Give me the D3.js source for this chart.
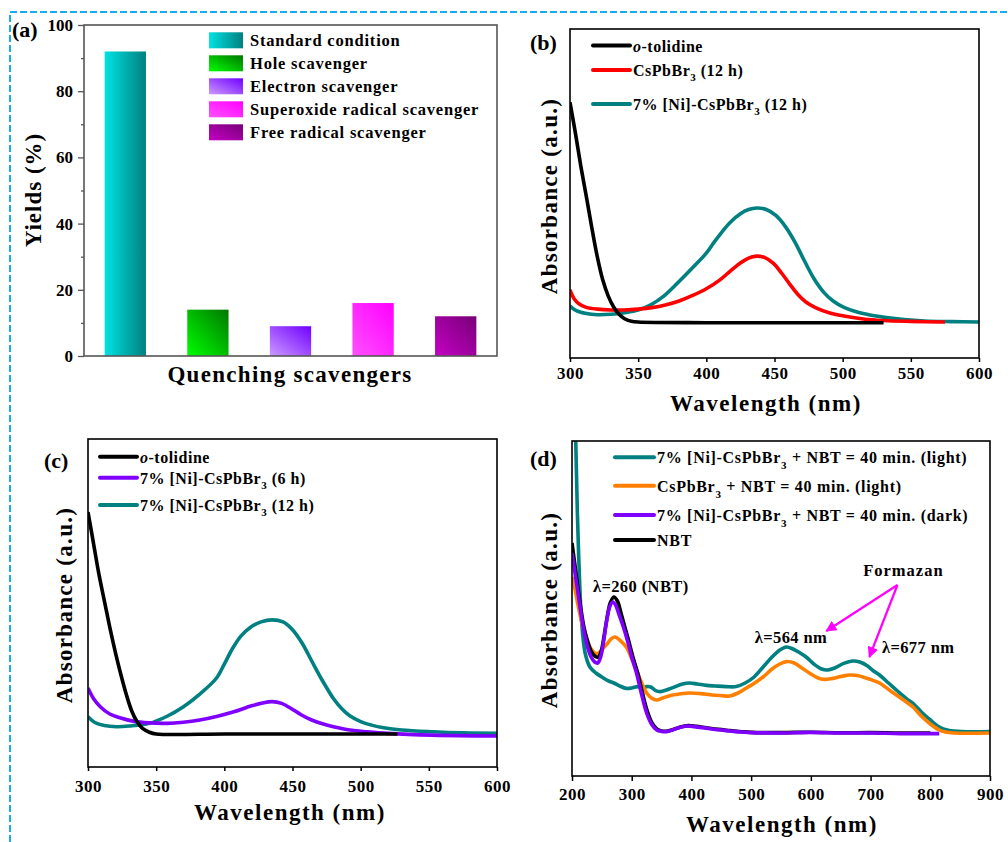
<!DOCTYPE html>
<html><head><meta charset="utf-8">
<script src="https://cdn.jsdelivr.net/npm/d3@7"></script>
<style>
body{margin:0;background:#fff;}
svg{display:block;font-family:"Liberation Serif","Times New Roman",serif;font-weight:bold;}
</style></head><body>
<svg id="chart" width="1008" height="842"></svg>
<script>
// ---------------- DATA ----------------
// (a) quenching experiment
const scavengerCategories = ["Standard condition","Hole scavenger","Electron scavenger","Superoxide radical scavenger","Free radical scavenger"];
const scavengerYields = [92,14,9,16,12];
const scavengerColors = [["#00e2e2","#008080"],["#00ff00","#007800"],["#cc99ff","#7000ff"],["#ff50ff","#ff00ff"],["#c400c4","#780078"]];
const yieldTicks = [0,20,40,60,80,100];
const yieldMinorTicks = [10,30,50,70,90];

// wavelength ticks
const wavelengthTicksBC = [300,350,400,450,500,550,600];
const wavelengthTicksD = [200,300,400,500,600,700,800,900];

// (b) spectra  [wavelength nm, absorbance a.u.]
const bOtolidine = [[300,0.99],[304,0.85],[308,0.7],[312,0.565],[316,0.425],[320,0.295],[324,0.19],[328,0.118],[332,0.068],[336,0.035],[340,0.015],[345,0.004],[350,0],[400,-0.003],[450,-0.003],[500,-0.003],[530,-0.003]];
const bCsPbBr3 = [[300,0.145],[303,0.105],[307,0.08],[312,0.066],[320,0.058],[330,0.054],[340,0.054],[350,0.058],[360,0.065],[370,0.077],[380,0.095],[390,0.12],[400,0.15],[410,0.19],[418,0.232],[425,0.266],[431,0.288],[437,0.297],[443,0.29],[449,0.265],[455,0.222],[461,0.172],[467,0.125],[473,0.09],[480,0.065],[490,0.042],[500,0.028],[515,0.014],[530,0.007],[550,0.003],[575,0]];
const bNiCsPbBr3 = [[300,0.072],[305,0.05],[312,0.038],[320,0.033],[330,0.035],[340,0.042],[350,0.054],[360,0.08],[368,0.113],[376,0.158],[384,0.207],[392,0.258],[400,0.31],[406,0.362],[412,0.41],[418,0.452],[425,0.488],[431,0.507],[437,0.514],[444,0.507],[451,0.48],[458,0.43],[465,0.36],[472,0.275],[479,0.195],[486,0.135],[493,0.095],[501,0.066],[510,0.046],[520,0.032],[532,0.02],[545,0.011],[560,0.005],[580,0.002],[600,0]];

// (c) spectra
const cOtolidine = [[300,1.0],[304,0.86],[308,0.72],[312,0.6],[316,0.48],[320,0.37],[324,0.27],[328,0.18],[332,0.105],[336,0.055],[340,0.025],[345,0.008],[350,0],[400,0],[450,0],[500,0],[527,0]];
const cNi6h = [[300,0.207],[304,0.16],[309,0.123],[316,0.09],[324,0.072],[333,0.058],[345,0.05],[358,0.048],[370,0.053],[382,0.063],[395,0.08],[407,0.1],[420,0.127],[428,0.14],[435,0.146],[442,0.138],[449,0.115],[456,0.088],[464,0.063],[472,0.046],[480,0.033],[492,0.018],[505,0.01],[520,0.003],[553,-0.005],[600,-0.009]];
const cNi12h = [[300,0.078],[305,0.052],[312,0.038],[321,0.033],[330,0.036],[345,0.048],[358,0.08],[370,0.123],[382,0.18],[394,0.25],[400,0.315],[406,0.385],[412,0.44],[419,0.48],[427,0.505],[435,0.514],[443,0.505],[450,0.47],[457,0.41],[464,0.33],[472,0.24],[480,0.16],[486,0.115],[492,0.082],[500,0.056],[508,0.04],[517,0.028],[530,0.018],[553,0.01],[575,0.005],[600,0.003]];

// (d) NBT spectra
const dNiLight = [[200,2.2],[203,1.9],[206,1.5],[209,1.1],[212,0.82],[216,0.56],[222,0.4],[230,0.33],[240,0.3],[250,0.28],[260,0.262],[270,0.25],[280,0.235],[291,0.223],[300,0.225],[310,0.232],[318,0.225],[325,0.232],[332,0.23],[340,0.212],[348,0.207],[358,0.215],[370,0.228],[385,0.245],[397,0.25],[410,0.245],[425,0.238],[440,0.235],[458,0.232],[475,0.232],[490,0.25],[505,0.28],[520,0.33],[535,0.38],[548,0.415],[559,0.43],[570,0.42],[582,0.4],[592,0.38],[605,0.345],[618,0.32],[628,0.315],[640,0.325],[655,0.348],[670,0.36],[682,0.355],[695,0.335],[705,0.31],[715,0.29],[730,0.25],[745,0.21],[760,0.172],[771,0.148],[785,0.105],[800,0.065],[815,0.03],[830,0.014],[854,0.007],[900,0.007]];
const dCsLight = [[200,0.78],[205,0.72],[210,0.64],[215,0.57],[220,0.515],[226,0.46],[232,0.42],[238,0.4],[243,0.398],[248,0.41],[254,0.43],[260,0.45],[266,0.472],[272,0.48],[278,0.47],[285,0.45],[292,0.425],[300,0.37],[308,0.315],[316,0.255],[325,0.2],[333,0.175],[342,0.165],[352,0.175],[365,0.188],[380,0.195],[397,0.2],[415,0.197],[435,0.19],[450,0.187],[464,0.185],[478,0.2],[492,0.225],[506,0.25],[520,0.28],[535,0.32],[548,0.345],[559,0.357],[572,0.35],[585,0.325],[600,0.295],[612,0.275],[622,0.268],[635,0.272],[650,0.282],[665,0.29],[678,0.288],[692,0.275],[705,0.262],[715,0.25],[730,0.218],[745,0.186],[760,0.155],[771,0.13],[785,0.085],[800,0.045],[815,0.015],[825,0.005],[840,0],[900,0]];
const dNiDark = [[200,0.9],[204,0.82],[208,0.74],[212,0.66],[216,0.58],[220,0.51],[226,0.43],[232,0.38],[238,0.355],[243,0.35],[248,0.38],[253,0.46],[258,0.56],[263,0.63],[268,0.655],[273,0.64],[279,0.59],[286,0.53],[293,0.46],[300,0.38],[308,0.3],[316,0.2],[325,0.1],[333,0.045],[342,0.015],[350,0.008],[358,0.007],[368,0.015],[380,0.028],[392,0.035],[405,0.032],[425,0.024],[445,0.016],[465,0.01],[481,0.005],[500,0.002],[550,0],[600,0.003],[650,0],[700,0],[750,-0.003],[815,-0.003]];
const dNBT = [[200,0.95],[204,0.86],[208,0.77],[212,0.68],[216,0.6],[220,0.53],[226,0.46],[232,0.41],[238,0.385],[244,0.38],[249,0.41],[254,0.49],[259,0.58],[264,0.65],[270,0.68],[276,0.66],[282,0.6],[288,0.535],[295,0.46],[302,0.38],[310,0.3],[318,0.2],[326,0.11],[334,0.05],[342,0.02],[350,0.01],[360,0.01],[372,0.02],[385,0.032],[395,0.037],[408,0.033],[425,0.026],[445,0.018],[465,0.012],[485,0.006],[500,0.003],[550,0.002],[600,0.004],[650,0.001],[700,0.002],[750,0],[800,0]];

// legends
const legendB = ["o-tolidine","CsPbBr3 (12 h)","7% [Ni]-CsPbBr3 (12 h)"];
const legendC = ["o-tolidine","7% [Ni]-CsPbBr3 (6 h)","7% [Ni]-CsPbBr3 (12 h)"];
const legendD = ["7% [Ni]-CsPbBr3 + NBT = 40 min. (light)","CsPbBr3 + NBT = 40 min. (light)","7% [Ni]-CsPbBr3 + NBT = 40 min. (dark)","NBT"];

// (d) annotations [text, wavelength, absorbance]
const annotD = [["λ=260 (NBT)",235,0.707],["λ=564 nm",506,0.45],["λ=677 nm",719,0.4]];
const formazanLabel = ["Formazan",755,0.785];
const formazanArrows = [[[745,0.74],[626,0.51]],[[745,0.74],[698,0.38]]];

// ---------------- DRAW ----------------
const svg = d3.select("#chart");
const defs = svg.append("defs");

// dashed frame
svg.append("path").attr("d","M10,842 V12 H1008").attr("fill","none")
  .attr("stroke","#1aacef").attr("stroke-width",2).attr("stroke-dasharray","7,3");

function richText(sel, s, subSize, subShift){
  if (s.startsWith("o-")) {
    sel.append("tspan").attr("font-style","italic").text("o");
    sel.append("tspan").text(s.slice(1));
    return;
  }
  const i = s.indexOf("Br3");
  if (i < 0) { sel.append("tspan").text(s); return; }
  sel.append("tspan").text(s.slice(0,i+2));
  sel.append("tspan").attr("font-size",subSize).attr("dy",subShift).text("3");
  sel.append("tspan").attr("dy",-subShift).text(s.slice(i+3));
}

// ---- panel (a)
(function(){
  const A = {l:84,t:25,r:497,b:356};
  const x = d3.scaleBand().domain(scavengerCategories).range([A.l,A.r]).paddingInner(0.5).paddingOuter(0.25);
  const y = d3.scaleLinear().domain([0,100]).range([A.b,A.t]);
  scavengerColors.forEach((c,i)=>{
    const g = defs.append("linearGradient").attr("id","ga"+i)
      .attr("x1",0).attr("y1", i===0?0:1).attr("x2",1).attr("y2",0);
    g.append("stop").attr("offset","0%").attr("stop-color",c[0]);
    g.append("stop").attr("offset","100%").attr("stop-color",c[1]);
  });
  const g = svg.append("g");
  g.selectAll("rect.bar").data(scavengerYields).join("rect").attr("class","bar")
    .attr("x",(d,i)=>x(scavengerCategories[i])).attr("width",x.bandwidth())
    .attr("y",d=>y(d)).attr("height",d=>A.b-y(d))
    .attr("fill",(d,i)=>`url(#ga${i})`);
  const ax = g.append("g").attr("transform",`translate(${A.l},0)`)
    .call(d3.axisLeft(y).tickValues(yieldTicks).tickSize(6).tickPadding(5));
  ax.select(".domain").remove();
  ax.attr("font-size",17).attr("font-family",null);
  ax.selectAll("line").attr("stroke","#555").attr("stroke-width",1.3);
  ax.selectAll("text").attr("fill","#000");
  const axm = g.append("g").attr("transform",`translate(${A.l},0)`)
    .call(d3.axisLeft(y).tickValues(yieldMinorTicks).tickSize(3).tickFormat(""));
  axm.select(".domain").remove();
  axm.selectAll("line").attr("stroke","#555").attr("stroke-width",1.3);
  g.append("rect").attr("x",A.l).attr("y",A.t).attr("width",A.r-A.l).attr("height",A.b-A.t)
    .attr("fill","none").attr("stroke","#555").attr("stroke-width",1.6);
  // legend
  const lg = g.append("g");
  scavengerCategories.forEach((c,i)=>{
    const cy = 40.3 + i*23;
    lg.append("rect").attr("x",209).attr("y",cy-8).attr("width",34).attr("height",16).attr("fill",`url(#ga${i})`);
    lg.append("text").attr("x",250).attr("y",cy+5.5).attr("font-size",16.5).attr("letter-spacing",0.8).text(c);
  });
  g.append("text").attr("x",12).attr("y",37).attr("font-size",22).text("(a)");
  g.append("text").attr("x",290).attr("y",382).attr("text-anchor","middle").attr("font-size",23).attr("letter-spacing",1.3).text("Quenching scavengers");
  g.append("text").attr("transform","translate(41,190) rotate(-90)").attr("text-anchor","middle").attr("font-size",23).attr("letter-spacing",1).text("Yields (%)");
})();

// ---- spectra panels
function spectraPanel(cfg){
  const P = cfg.box;
  const x = d3.scaleLinear().domain(cfg.xDomain).range([P.l,P.r]);
  const y = d3.scaleLinear().domain(cfg.yDomain).range([P.b,P.t]);
  const g = svg.append("g");
  const cid = "clip"+cfg.id;
  defs.append("clipPath").attr("id",cid).append("rect")
    .attr("x",P.l).attr("y",P.t).attr("width",P.r-P.l).attr("height",P.b-P.t);
  const line = d3.line().x(d=>x(d[0])).y(d=>y(d[1])).curve(d3.curveCatmullRom.alpha(0.5));
  const cg = g.append("g").attr("clip-path",`url(#${cid})`);
  cfg.drawOrder.forEach(i=>{
    const s = cfg.series[i];
    cg.append("path").datum(s.data).attr("d",line).attr("fill","none")
      .attr("stroke",s.color).attr("stroke-width",3.6).attr("stroke-linejoin","round");
  });
  const ax = g.append("g").attr("transform",`translate(0,${P.b})`)
    .call(d3.axisBottom(x).tickValues(cfg.ticks).tickSize(cfg.tickSize).tickPadding(cfg.tickPad));
  ax.select(".domain").remove();
  ax.attr("font-size",17).attr("font-family",null);
  ax.selectAll("line").attr("stroke","#000").attr("stroke-width",1.5);
  ax.selectAll("text").attr("fill","#000").attr("letter-spacing",0.5);
  g.append("rect").attr("x",P.l).attr("y",P.t).attr("width",P.r-P.l).attr("height",P.b-P.t)
    .attr("fill","none").attr("stroke","#000").attr("stroke-width",1.6);
  // legend
  const L = cfg.legend;
  cfg.series.forEach((s,i)=>{
    const ly = L.ys[i];
    g.append("line").attr("x1",L.x1).attr("x2",L.x2).attr("y1",ly).attr("y2",ly)
      .attr("stroke",s.color).attr("stroke-width",4).attr("stroke-linecap","round");
    const t = g.append("text").attr("x",L.x2+3).attr("y",ly+6).attr("font-size",16).attr("letter-spacing",L.ls);
    richText(t, cfg.labels[i], 11, L.sub);
  });
  g.append("text").attr("x",cfg.tag[1]).attr("y",cfg.tag[2]).attr("font-size",22).text(cfg.tag[0]);
  g.append("text").attr("x",cfg.xTitle[0]).attr("y",cfg.xTitle[1]).attr("text-anchor","middle")
    .attr("font-size",23).attr("letter-spacing",1.5).text("Wavelength (nm)");
  g.append("text").attr("transform",`translate(${cfg.yTitle[0]},${cfg.yTitle[1]}) rotate(-90)`)
    .attr("text-anchor","middle").attr("font-size",23).attr("letter-spacing",1.3).text("Absorbance (a.u.)");
  return {g,x,y};
}

spectraPanel({
  id:"b", box:{l:570,t:29,r:979,b:358}, xDomain:[300,600], yDomain:[-0.162,1.32],
  ticks:wavelengthTicksBC, tickSize:4, tickPad:5,
  series:[{data:bOtolidine,color:"#000000"},{data:bCsPbBr3,color:"#ff0000"},{data:bNiCsPbBr3,color:"#008080"}],
  drawOrder:[2,1,0], labels:legendB,
  legend:{x1:593,x2:630,ys:[45.5,70,104],ls:0.5,sub:5},
  tag:["(b)",530,50], xTitle:[766,411], yTitle:[557,196]
});

spectraPanel({
  id:"c", box:{l:88,t:439,r:497,b:767}, xDomain:[300,600], yDomain:[-0.1486,1.3288],
  ticks:wavelengthTicksBC, tickSize:4, tickPad:9,
  series:[{data:cOtolidine,color:"#000000"},{data:cNi6h,color:"#8000ff"},{data:cNi12h,color:"#008080"}],
  drawOrder:[2,1,0], labels:legendC,
  legend:{x1:100,x2:137,ys:[456.7,477.7,505],ls:0.5,sub:5},
  tag:["(c)",44,468], xTitle:[290,820], yTitle:[72,605]
});

const pd = spectraPanel({
  id:"d", box:{l:572,t:441,r:990,b:776}, xDomain:[200,900], yDomain:[-0.215,1.46],
  ticks:wavelengthTicksD, tickSize:5, tickPad:7,
  series:[{data:dNiLight,color:"#008080"},{data:dCsLight,color:"#ff8000"},{data:dNiDark,color:"#8000ff"},{data:dNBT,color:"#000000"}],
  drawOrder:[0,1,3,2], labels:legendD,
  legend:{x1:615,x2:654,ys:[457.3,485.7,515,540],ls:0.7,sub:6},
  tag:["(d)",530,466], xTitle:[782,832], yTitle:[557,610]
});

// annotations (d)
(function(){
  const {g,x,y} = pd;
  annotD.forEach(a=>{
    g.append("text").attr("x",x(a[1])).attr("y",y(a[2])).attr("font-size",16.5).attr("letter-spacing",0.4).text(a[0]);
  });
  g.append("text").attr("x",x(formazanLabel[1])).attr("y",y(formazanLabel[2])).attr("text-anchor","middle")
    .attr("font-size",16.5).attr("letter-spacing",1).text(formazanLabel[0]);
  defs.append("marker").attr("id","arrowM").attr("viewBox","0 0 10 10").attr("refX",9).attr("refY",5)
    .attr("markerWidth",5).attr("markerHeight",5).attr("markerUnits","strokeWidth").attr("orient","auto")
    .append("path").attr("d","M0,0 L10,5 L0,10 Z").attr("fill","#ff00ff");
  formazanArrows.forEach(a=>{
    g.append("line").attr("x1",x(a[0][0])).attr("y1",y(a[0][1])).attr("x2",x(a[1][0])).attr("y2",y(a[1][1]))
      .attr("stroke","#ff00ff").attr("stroke-width",2.2).attr("marker-end","url(#arrowM)");
  });
})();
</script>
</body></html>
